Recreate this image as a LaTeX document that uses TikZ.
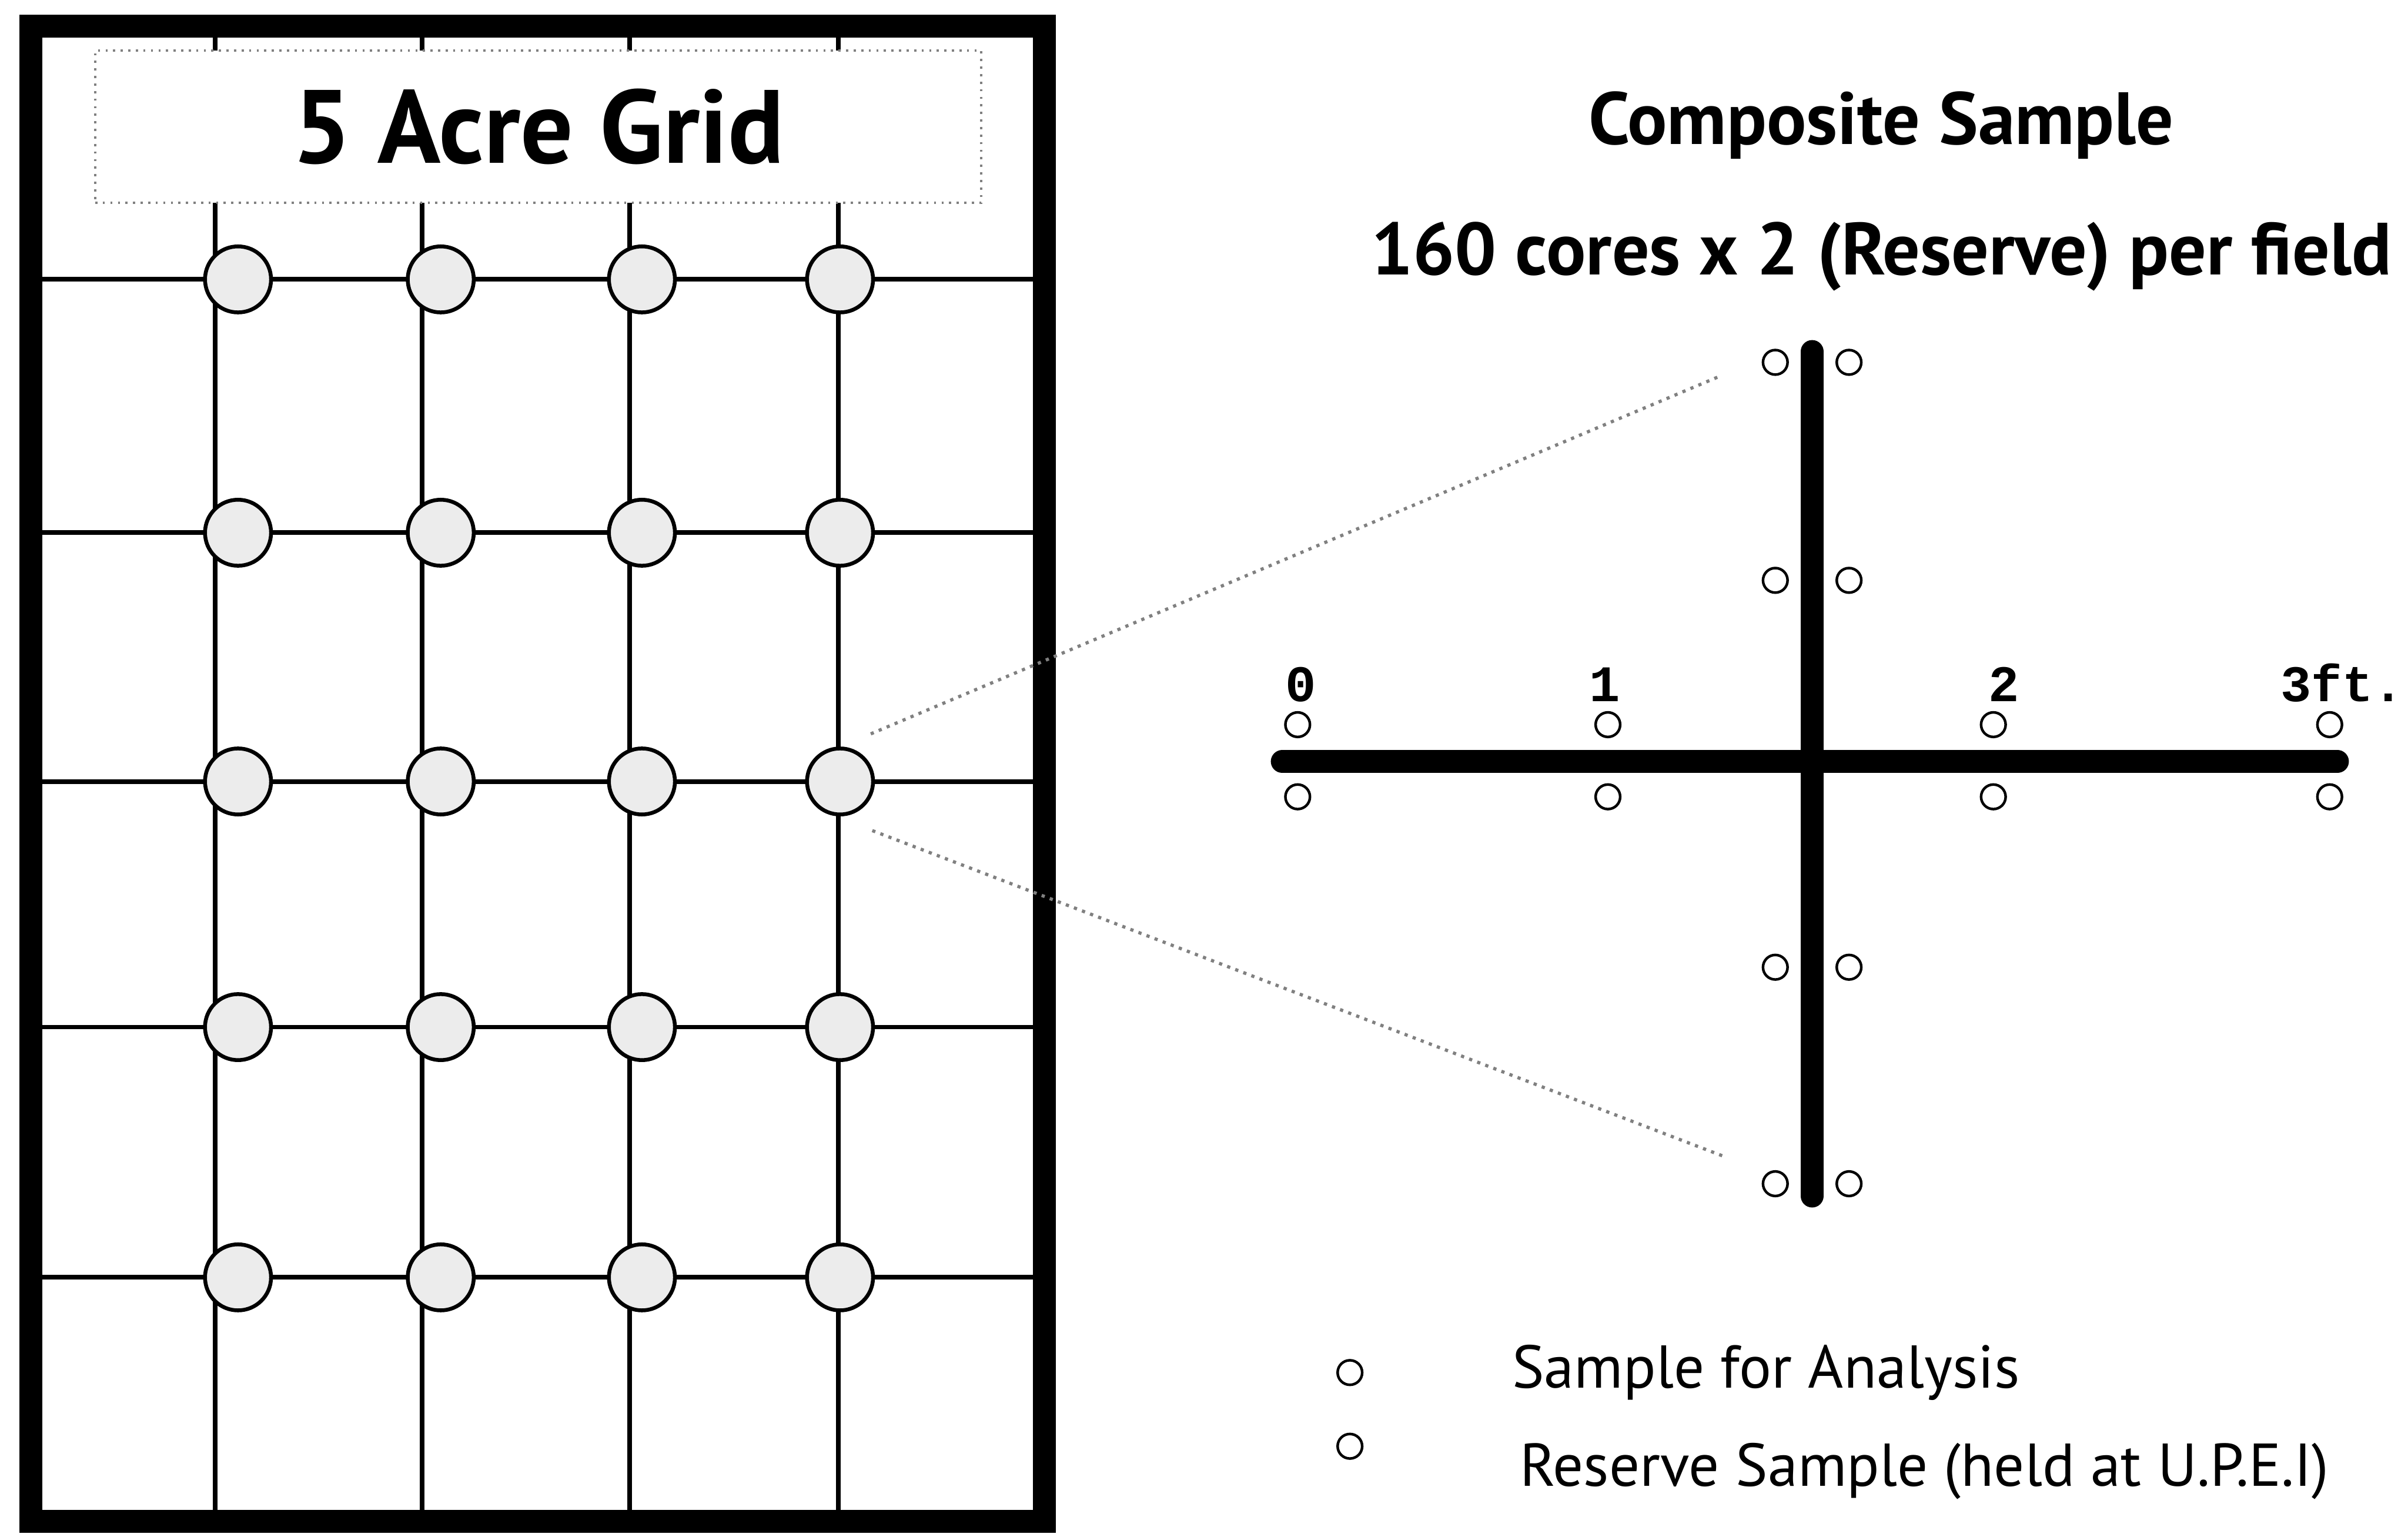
\documentclass[tikz,border=0pt]{standalone}
\usepackage{fontspec}
\setmainfont{PT Sans}
\setmonofont{Liberation Mono}
\tikzset{
  frame/.style={line width=1.5mm},
  gridline/.style={line width=0.3mm},
  titlebox/.style={draw=gray,densely dotted,fill=white,line width=0.4pt,
    minimum width=57.7mm,minimum height=9.9mm,inner sep=0pt,
    font=\bfseries\fontsize{19.3}{23}\selectfont},
  plot/.style={circle,draw,line width=0.25mm,fill=gray!15,inner sep=0pt,minimum size=4.3mm},
  core/.style={circle,draw,line width=0.17mm,inner sep=0pt,minimum size=1.6mm},
  bar/.style={line width=1.5mm,line cap=round},
  zoomline/.style={gray,densely dotted,line width=0.6pt},
  heading/.style={inner sep=0pt,anchor=base,font=\bfseries\fontsize{13.7}{16}\selectfont},
  scalelabel/.style={inner sep=0pt,anchor=base,font=\ttfamily\bfseries\fontsize{9.5}{11}\selectfont},
  legend/.style={inner sep=0pt,anchor=base west,font=\fontsize{11.2}{14}\selectfont}
}
\begin{document}
\begin{tikzpicture}[x=0.1mm,y=-0.1mm]
  \useasboundingbox (0,0) rectangle (1568,999);
  %grid
  \foreach \y in {182,347,509,669,832}
    \draw[gridline] (20,\y) -- (680,\y);
  \foreach \x in {140,275,410,546}
    \draw[gridline] (\x,17) -- (\x,991);
  %frame
  \draw[frame] (20,17) rectangle (680,991);
  %title
  \node[titlebox] (title) at (350.5,82.5) {5 Acre Grid};
  %points
  \foreach \r/\y in {1/182,2/347,3/509,4/669,5/832}
    \foreach \c/\x in {1/155,2/287,3/418,4/547}
      \node[plot] (p\r\c) at (\x,\y) {};
  %zoom
  \coordinate (zoomA) at (567,478);
  \coordinate (zoomB) at (1120,245);
  \coordinate (zoomC) at (568,541);
  \coordinate (zoomD) at (1122,753);
  \draw[zoomline] (zoomA) -- (zoomB);
  \draw[zoomline] (zoomC) -- (zoomD);
  %cross
  \draw[bar] (1180,229) -- (1180,779);
  \draw[bar] (835,496) -- (1522,496);
  \foreach \y [count=\i] in {236,378,630,771} {
    \node[core] (vl\i) at (1156,\y) {};
    \node[core] (vr\i) at (1204,\y) {};
  }
  %scale
  \foreach \x [count=\i] in {845,1047,1298,1517} {
    \node[core] (ha\i) at (\x,472) {};
    \node[core] (hb\i) at (\x,519) {};
  }
  \node[scalelabel] (ft0) at (847,457) {0};
  \node[scalelabel] (ft1) at (1045,457) {1};
  \node[scalelabel] (ft2) at (1305,457) {2};
  \node[scalelabel,anchor=base east] (ft3) at (1566,457) {3ft.};
  %headings
  \node[heading] (comp) at (1225,94) {Composite Sample};
  \node[heading] (cores) at (1225,179) {160 cores x 2 (Reserve) per field};
  %legend
  \node[core] (keyA) at (879,894) {};
  \node[core] (keyB) at (879,942) {};
  \node[legend] (analysis) at (984,904) {Sample for Analysis};
  \node[legend] (reserve) at (989,968) {Reserve Sample (held at U.P.E.I)};
\end{tikzpicture}
\end{document}
